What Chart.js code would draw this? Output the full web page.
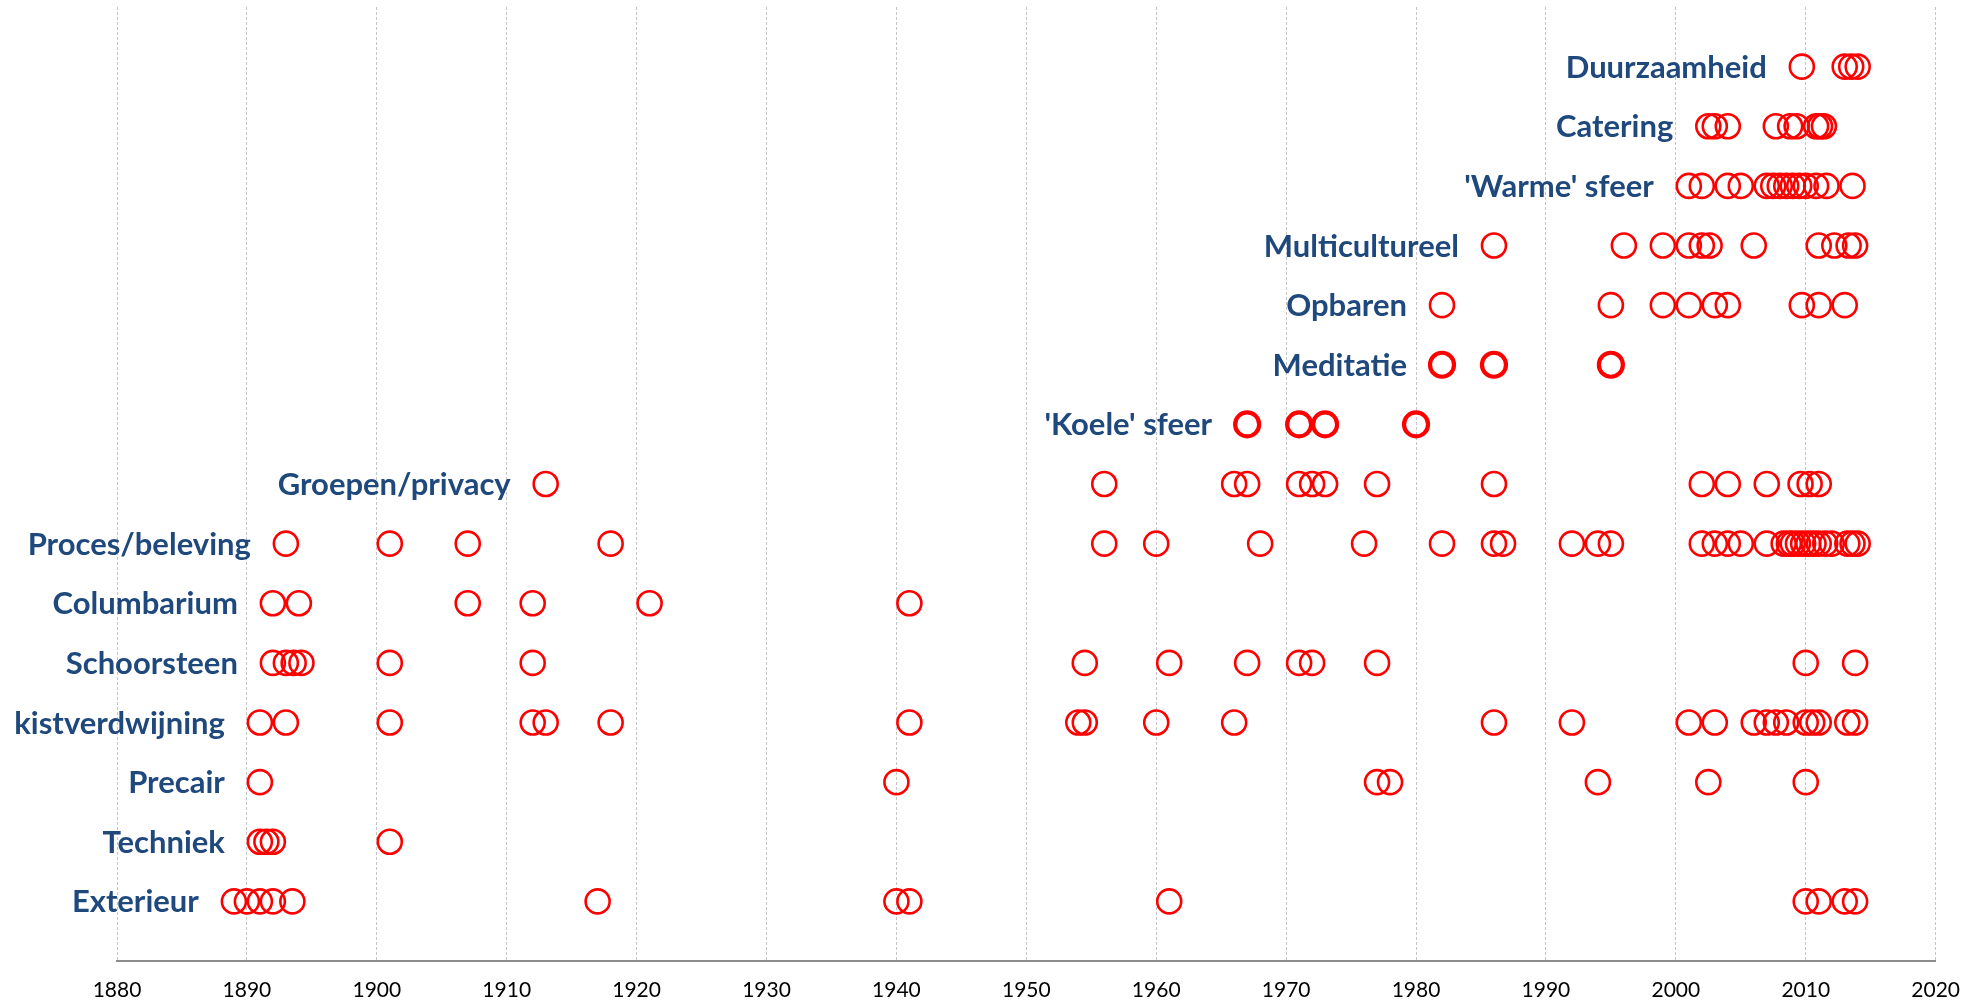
<!DOCTYPE html>
<html>
<head>
<meta charset="utf-8">
<title>Tijdlijn crematoria</title>
<script src="https://cdn.jsdelivr.net/npm/chart.js@4/dist/chart.umd.min.js"></script>
<style>
  html, body { margin: 0; padding: 0; background: #fff; }
  #wrap { width: 1977px; height: 1000px; }
</style>
</head>
<body>
<div id="wrap"><canvas id="timeline" width="1977" height="1000"></canvas></div>
<script>
// rows from bottom to top
const categories = [
  "Exterieur", "Techniek", "Precair", "kistverdwijning", "Schoorsteen",
  "Columbarium", "Proces/beleving", "Groepen/privacy", "'Koele' sfeer",
  "Meditatie", "Opbaren", "Multicultureel", "'Warme' sfeer", "Catering",
  "Duurzaamheid"
];

const yearTicks = [1880, 1890, 1900, 1910, 1920, 1930, 1940, 1950, 1960, 1970, 1980, 1990, 2000, 2010, 2020];

const exterieur = [1889, 1890, 1891, 1892, 1893.5, 1917, 1940, 1941, 1961, 2010, 2011, 2013, 2013.8];
const techniek = [1891, 1891.5, 1892, 1901];
const precair = [1891, 1940, 1977, 1978, 1994, 2002.5, 2010];
const kistverdwijning = [1891, 1893, 1901, 1912, 1913, 1918, 1941, 1954, 1954.5, 1960, 1966, 1986, 1992,
  2001, 2003, 2006, 2007, 2007.7, 2008.5, 2010, 2010.5, 2011, 2013.2, 2013.8];
const schoorsteen = [1892, 1893, 1893.6, 1894.2, 1901, 1912, 1954.5, 1961, 1967, 1971, 1972, 1977, 2010, 2013.8];
const columbarium = [1892, 1894, 1907, 1912, 1921, 1941];
const procesBeleving = [1893, 1901, 1907, 1918, 1956, 1960, 1968, 1976, 1982, 1986, 1986.7, 1992, 1994, 1995,
  2002, 2003, 2004, 2005, 2007, 2008.3, 2008.7, 2009, 2009.4, 2009.8, 2010.2, 2010.6, 2011, 2011.5, 2012,
  2013.2, 2013.6, 2014];
const groepenPrivacy = [1913, 1956, 1966, 1967, 1971, 1972, 1973, 1977, 1986, 2002, 2004, 2007, 2009.6, 2010.3, 2011];
const koeleSfeer = [1967, 1971, 1973, 1980];
const meditatie = [1982, 1986, 1995];
const opbaren = [1982, 1995, 1999, 2001, 2003, 2004, 2009.7, 2011, 2013];
const multicultureel = [1986, 1996, 1999, 2001, 2002, 2002.6, 2006, 2011, 2012.2, 2013.3, 2013.8];
const warmeSfeer = [2001, 2002, 2004, 2005, 2007, 2007.5, 2008, 2008.5, 2009, 2009.5, 2010, 2010.8, 2011.6, 2013.6];
const catering = [2002.5, 2003, 2004, 2007.7, 2008.8, 2009.3, 2010.8, 2011.1, 2011.4];
const duurzaamheid = [2009.7, 2013, 2013.5, 2014];

const rows = [exterieur, techniek, precair, kistverdwijning, schoorsteen, columbarium, procesBeleving,
  groepenPrivacy, koeleSfeer, meditatie, opbaren, multicultureel, warmeSfeer, catering, duurzaamheid];

// these two rows are drawn with a heavier ring
const boldRows = ["'Koele' sfeer", "Meditatie"];

const datasets = rows.map((years, i) => ({
  label: categories[i],
  data: years.map((yr) => ({ x: yr, y: i + 1 })),
  pointStyle: "circle",
  pointRadius: 12,
  pointHoverRadius: 12,
  pointBorderWidth: boldRows.includes(categories[i]) ? 4.2 : 2.6,
  pointBorderColor: "#ff0000",
  pointBackgroundColor: "rgba(0,0,0,0)",
  showLine: false,
}));

// category name to the left of each row's first ring
const rowLabels = {
  id: "rowLabels",
  afterDatasetsDraw(chart) {
    const ctx = chart.ctx;
    ctx.save();
    ctx.font = "bold 31px Lato";
    ctx.fillStyle = "#1f497d";
    ctx.textAlign = "right";
    ctx.textBaseline = "middle";
    chart.data.datasets.forEach((ds, i) => {
      const first = chart.getDatasetMeta(i).data[0];
      if (first) ctx.fillText(ds.label, first.x - 35, first.y + 1);
    });
    ctx.restore();
  },
};

new Chart(document.getElementById("timeline"), {
  type: "scatter",
  data: { datasets },
  options: {
    responsive: false,
    animation: false,
    layout: { autoPadding: false, padding: { left: 117, right: 41, top: 7, bottom: 0 } },
    plugins: { legend: { display: false }, tooltip: { enabled: false } },
    scales: {
      x: {
        type: "linear",
        min: yearTicks[0],
        max: yearTicks[yearTicks.length - 1],
        afterBuildTicks: (axis) => { axis.ticks = yearTicks.map((v) => ({ value: v })); },
        afterFit: (axis) => { axis.height = 39; },
        grid: { color: "#c4c4c4", lineWidth: 1, drawTicks: false },
        border: { color: "#8c8c8c", width: 2, dash: [3, 2] },
        ticks: {
          color: "#000",
          font: { family: "Lato", size: 21 },
          padding: 17,
          maxRotation: 0,
          callback: (v) => String(v),
        },
      },
      y: {
        display: false,
        min: 0,
        max: 16,
      },
    },
  },
  plugins: [rowLabels],
});
</script>
</body>
</html>
